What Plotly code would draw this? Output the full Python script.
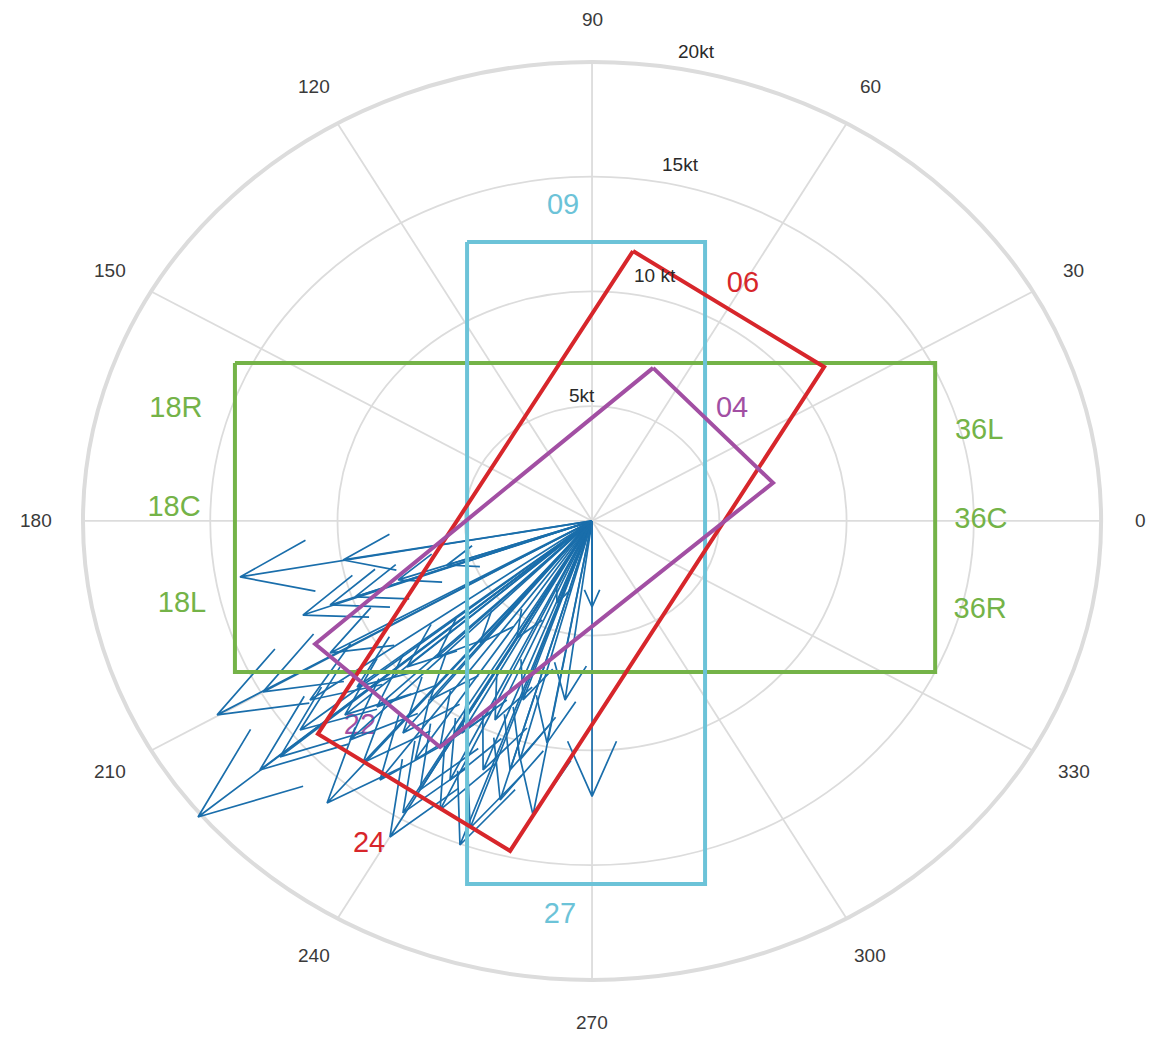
import numpy as np
import plotly.graph_objects as go

# Wind observations as compass vectors: east (u) and north (v) components in knots
wind_u = [-13.83, -9.78, -11.36, -5.70, -7.62, -9.31, -14.73, -15.48, -12.93, -13.05,
          -10.41, -7.94, -9.00, -7.43, -5.19, -2.32, 0.00, -1.77, 0.00, -1.38,
          -2.95, -4.40, -6.09, -7.27, -9.23, -5.97, -4.79, -5.11, -4.28, -7.43,
          -8.45, -10.29, -2.71, -12.26, -10.29,
          -6.76, -5.97, -3.61, -3.22, -3.81, -6.37, -6.95, -5.58, -9.51, -8.33,
          -9.71, -11.47, -11.08, -2.83, -1.06]
wind_v = [-2.44, -1.70, -4.10, -1.92, -2.57, -3.31, -8.45, -12.90, -7.45, -10.85,
          -12.29, -13.77, -10.54, -12.72, -14.12, -12.81, -12.00, -9.67, -3.75, -3.57,
          -5.10, -5.32, -5.93, -6.36, -7.23, -9.85, -13.38, -9.24, -10.85, -9.24,
          -8.10, -5.75, -7.80, -10.28, -3.66,
          -11.72, -12.59, -12.16, -10.85, -8.67, -7.80, -10.41, -11.29, -9.54, -11.29,
          -8.45, -9.11, -7.80, -10.41, -7.80]

# Runway outlines (knots, same frame as the wind vectors)
rwy_18_36_x = [-14.03, 13.48, 13.48, -14.03, -14.03]
rwy_18_36_y = [6.88, 6.88, -6.58, -6.58, 6.88]
rwy_09_27_x = [-4.91, 4.44, 4.44, -4.91, -4.91]
rwy_09_27_y = [12.16, 12.16, -15.82, -15.82, 12.16]
rwy_06_24_x = [1.61, 9.12, -3.22, -10.77, 1.61]
rwy_06_24_y = [11.76, 6.71, -14.38, -9.28, 11.76]
rwy_04_22_x = [2.40, 7.11, -5.97, -10.88, 2.40]
rwy_04_22_y = [6.67, 1.66, -9.85, -5.36, 6.67]

# Runway designators and where they sit
rwy_labels = ["09", "27", "06", "24", "04", "22", "18R", "18C", "18L", "36L", "36C", "36R"]
rwy_label_x = [-1.14, -1.26, 5.93, -8.76, 5.50, -9.12, -16.35, -16.42, -16.11, 15.21, 15.28, 15.25]
rwy_label_y = [13.68, -17.21, 10.28, -14.12, 4.84, -8.98, 4.84, 0.52, -3.66, 3.88, 0.0, -3.92]

GREEN = "#74b348"
CYAN = "#6cc3d8"
RED = "#d7262b"
PURPLE = "#a24fa3"
rwy_label_colors = [CYAN, CYAN, RED, RED, PURPLE, PURPLE,
                    GREEN, GREEN, GREEN, GREEN, GREEN, GREEN]

# Polar grid
ring_speeds = [5, 10, 15, 20]
ring_labels = ["5kt", "10 kt", "15kt", "20kt"]
ring_label_r = [5.5, 10.96, 15.9, 20.85]
ring_label_deg = [94.0, 76.9, 77.4, 78.6]
spoke_deg = list(range(0, 360, 30))
R_MAX = 20
ANGLE_LABEL_R = 21.85

GRID = "#dcdcdc"
ARROW = "#1a6eab"

fig = go.Figure()

# grid rings (outer boundary drawn heavier) and spokes
shapes = []
for r in ring_speeds:
    shapes.append(dict(type="circle", xref="x", yref="y", x0=-r, x1=r, y0=-r, y1=r,
                       line=dict(color=GRID, width=4 if r == R_MAX else 1.8), layer="below"))
for d in spoke_deg:
    a = np.deg2rad(d)
    shapes.append(dict(type="line", xref="x", yref="y", x0=0, y0=0,
                       x1=R_MAX * np.cos(a), y1=R_MAX * np.sin(a),
                       line=dict(color=GRID, width=1.8), layer="below"))

annotations = []
for d in spoke_deg:
    a = np.deg2rad(d)
    # the 0 label sits against the right edge; pull it in just enough to stay whole
    r = ANGLE_LABEL_R - (0.3 if d == 0 else 0.0)
    annotations.append(dict(x=r * np.cos(a), y=r * np.sin(a), xref="x", yref="y",
                            text=str(d), showarrow=False,
                            font=dict(family="Liberation Sans, Arial", size=19, color="#3a3a3a")))
for lab, r, d in zip(ring_labels, ring_label_r, ring_label_deg):
    a = np.deg2rad(d)
    annotations.append(dict(x=r * np.cos(a), y=r * np.sin(a), xref="x", yref="y",
                            text=lab, showarrow=False,
                            font=dict(family="Liberation Sans, Arial", size=19, color="#2a2a2a")))

# runway designators go beneath the wind arrows
fig.add_trace(go.Scatter(x=rwy_label_x, y=rwy_label_y, mode="text", text=rwy_labels,
                         textfont=dict(family="Liberation Sans, Arial", size=29,
                                       color=rwy_label_colors),
                         hoverinfo="skip"))

# compass arrows: shaft to the tip, then two barbs 20% back and 8% to either side
ax, ay = [], []
for u, v in zip(wind_u, wind_v):
    z = complex(u, v)
    b1 = z * complex(0.8, 0.08)
    b2 = z * complex(0.8, -0.08)
    for p in (0, z, b1, z, b2):
        p = complex(p)
        ax.append(p.real)
        ay.append(p.imag)
    ax.append(None)
    ay.append(None)
fig.add_trace(go.Scatter(x=ax, y=ay, mode="lines", line=dict(color=ARROW, width=1.7),
                         hoverinfo="skip"))

for xs, ys, col in [(rwy_18_36_x, rwy_18_36_y, GREEN),
                    (rwy_09_27_x, rwy_09_27_y, CYAN),
                    (rwy_06_24_x, rwy_06_24_y, RED),
                    (rwy_04_22_x, rwy_04_22_y, PURPLE)]:
    fig.add_trace(go.Scatter(x=xs, y=ys, mode="lines", line=dict(color=col, width=4),
                             hoverinfo="skip"))

fig.update_layout(
    width=1151, height=1038,
    margin=dict(l=0, r=0, t=0, b=0),
    paper_bgcolor="white", plot_bgcolor="white",
    showlegend=False,
    shapes=shapes, annotations=annotations,
    xaxis=dict(range=[-23.26, 21.96], visible=False, fixedrange=True),
    yaxis=dict(range=[-22.53, 22.70], visible=False, fixedrange=True),
)

fig.write_html("out.html")
